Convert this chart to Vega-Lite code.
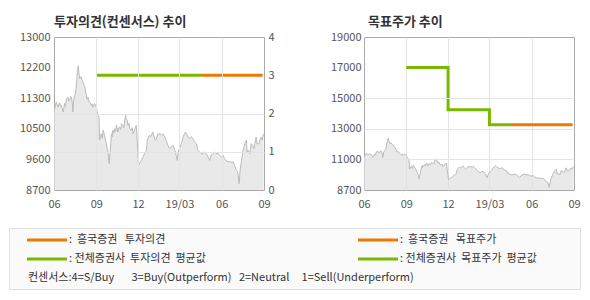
{
  "$schema": "https://vega.github.io/schema/vega-lite/v6.json",
  "background": "white",
  "padding": {"left": 8, "top": 15, "right": 0, "bottom": 0},
  "config": {
    "font": "Noto Sans CJK KR",
    "view": {"stroke": "#aaaaaa"},
    "axis": {"labelFont": "Noto Sans CJK KR", "labelFontSize": 11, "labelColor": "#555555", "domain": false, "ticks": false, "gridColor": "#e4e4e4", "labelPadding": 4, "title": null},
    "title": {"font": "Noto Sans CJK KR", "fontSize": 13, "fontWeight": "bold", "color": "#333333", "anchor": "start", "frame": "group", "baseline": "alphabetic"}
  },
  "datasets": {
    "price": [
      {"date": "2018-06-01", "price": 10940}, {"date": "2018-06-04", "price": 11050}, {"date": "2018-06-06", "price": 11170}, {"date": "2018-06-08", "price": 11090},
      {"date": "2018-06-10", "price": 11030}, {"date": "2018-06-13", "price": 11150}, {"date": "2018-06-15", "price": 11060}, {"date": "2018-06-17", "price": 11080},
      {"date": "2018-06-19", "price": 10980}, {"date": "2018-06-21", "price": 10890}, {"date": "2018-06-24", "price": 11130}, {"date": "2018-06-26", "price": 11050},
      {"date": "2018-06-28", "price": 11270}, {"date": "2018-07-01", "price": 11310}, {"date": "2018-07-03", "price": 11200}, {"date": "2018-07-05", "price": 11220},
      {"date": "2018-07-07", "price": 11330}, {"date": "2018-07-09", "price": 11310}, {"date": "2018-07-11", "price": 11100}, {"date": "2018-07-12", "price": 10890},
      {"date": "2018-07-14", "price": 11250}, {"date": "2018-07-16", "price": 11360}, {"date": "2018-07-18", "price": 11420}, {"date": "2018-07-20", "price": 11690},
      {"date": "2018-07-22", "price": 12060}, {"date": "2018-07-24", "price": 12190}, {"date": "2018-07-25", "price": 12000}, {"date": "2018-07-27", "price": 11830},
      {"date": "2018-07-30", "price": 11880}, {"date": "2018-08-01", "price": 11790}, {"date": "2018-08-03", "price": 11740}, {"date": "2018-08-05", "price": 11650},
      {"date": "2018-08-07", "price": 11600}, {"date": "2018-08-09", "price": 11450}, {"date": "2018-08-10", "price": 11410}, {"date": "2018-08-12", "price": 11250},
      {"date": "2018-08-14", "price": 11310}, {"date": "2018-08-16", "price": 11180}, {"date": "2018-08-18", "price": 11170}, {"date": "2018-08-21", "price": 11080},
      {"date": "2018-08-23", "price": 11120}, {"date": "2018-08-25", "price": 11030}, {"date": "2018-08-28", "price": 11130}, {"date": "2018-08-30", "price": 11090},
      {"date": "2018-09-01", "price": 11030}, {"date": "2018-09-03", "price": 10900}, {"date": "2018-09-05", "price": 10800}, {"date": "2018-09-07", "price": 10750},
      {"date": "2018-09-08", "price": 10100}, {"date": "2018-09-10", "price": 10200}, {"date": "2018-09-12", "price": 10280}, {"date": "2018-09-14", "price": 10150},
      {"date": "2018-09-16", "price": 10380}, {"date": "2018-09-19", "price": 10240}, {"date": "2018-09-21", "price": 10100}, {"date": "2018-09-23", "price": 10000},
      {"date": "2018-09-25", "price": 9850}, {"date": "2018-09-27", "price": 9720}, {"date": "2018-09-29", "price": 9440}, {"date": "2018-10-02", "price": 9910},
      {"date": "2018-10-04", "price": 10280}, {"date": "2018-10-06", "price": 10200}, {"date": "2018-10-07", "price": 10380}, {"date": "2018-10-09", "price": 10300},
      {"date": "2018-10-11", "price": 10420}, {"date": "2018-10-13", "price": 10350}, {"date": "2018-10-15", "price": 10520}, {"date": "2018-10-18", "price": 10330},
      {"date": "2018-10-20", "price": 10450}, {"date": "2018-10-22", "price": 10470}, {"date": "2018-10-24", "price": 10400}, {"date": "2018-10-26", "price": 10560},
      {"date": "2018-10-29", "price": 10520}, {"date": "2018-10-31", "price": 10450}, {"date": "2018-11-02", "price": 10660}, {"date": "2018-11-04", "price": 10800},
      {"date": "2018-11-05", "price": 10700}, {"date": "2018-11-07", "price": 10660}, {"date": "2018-11-09", "price": 10520}, {"date": "2018-11-11", "price": 10580},
      {"date": "2018-11-13", "price": 10420}, {"date": "2018-11-16", "price": 10380}, {"date": "2018-11-18", "price": 10450}, {"date": "2018-11-20", "price": 10280},
      {"date": "2018-11-22", "price": 10350}, {"date": "2018-11-24", "price": 10420}, {"date": "2018-11-27", "price": 10520}, {"date": "2018-11-29", "price": 10100},
      {"date": "2018-12-02", "price": 9390}, {"date": "2018-12-04", "price": 9440}, {"date": "2018-12-06", "price": 9500}, {"date": "2018-12-08", "price": 9530},
      {"date": "2018-12-10", "price": 9580}, {"date": "2018-12-12", "price": 9630}, {"date": "2018-12-15", "price": 9720}, {"date": "2018-12-17", "price": 9750},
      {"date": "2018-12-19", "price": 9820}, {"date": "2018-12-21", "price": 10100}, {"date": "2018-12-24", "price": 10190}, {"date": "2018-12-26", "price": 10240},
      {"date": "2018-12-28", "price": 10200}, {"date": "2018-12-30", "price": 10240}, {"date": "2019-01-02", "price": 10330}, {"date": "2019-01-05", "price": 10190},
      {"date": "2019-01-08", "price": 10100}, {"date": "2019-01-10", "price": 10140}, {"date": "2019-01-13", "price": 10280}, {"date": "2019-01-15", "price": 10250},
      {"date": "2019-01-17", "price": 10290}, {"date": "2019-01-21", "price": 10240}, {"date": "2019-01-24", "price": 10280}, {"date": "2019-01-28", "price": 10190},
      {"date": "2019-01-31", "price": 10100}, {"date": "2019-02-04", "price": 9950}, {"date": "2019-02-08", "price": 9860}, {"date": "2019-02-11", "price": 9910},
      {"date": "2019-02-15", "price": 9960}, {"date": "2019-02-19", "price": 9820}, {"date": "2019-02-22", "price": 9670}, {"date": "2019-02-24", "price": 9530},
      {"date": "2019-02-27", "price": 9820}, {"date": "2019-03-01", "price": 9860}, {"date": "2019-03-05", "price": 10000}, {"date": "2019-03-09", "price": 10190},
      {"date": "2019-03-12", "price": 10280}, {"date": "2019-03-14", "price": 10330}, {"date": "2019-03-16", "price": 10280}, {"date": "2019-03-20", "price": 10190},
      {"date": "2019-03-23", "price": 10140}, {"date": "2019-03-27", "price": 10200}, {"date": "2019-03-30", "price": 10140}, {"date": "2019-04-03", "price": 10050},
      {"date": "2019-04-07", "price": 10000}, {"date": "2019-04-10", "price": 9820}, {"date": "2019-04-14", "price": 9770}, {"date": "2019-04-18", "price": 9720},
      {"date": "2019-04-21", "price": 9730}, {"date": "2019-04-25", "price": 9770}, {"date": "2019-04-29", "price": 9720}, {"date": "2019-05-02", "price": 9630},
      {"date": "2019-05-06", "price": 9530}, {"date": "2019-05-09", "price": 9680}, {"date": "2019-05-13", "price": 9720}, {"date": "2019-05-17", "price": 9770},
      {"date": "2019-05-20", "price": 9720}, {"date": "2019-05-24", "price": 9730}, {"date": "2019-05-28", "price": 9670}, {"date": "2019-05-31", "price": 9630},
      {"date": "2019-06-04", "price": 9680}, {"date": "2019-06-07", "price": 9580}, {"date": "2019-06-11", "price": 9530}, {"date": "2019-06-15", "price": 9490},
      {"date": "2019-06-18", "price": 9500}, {"date": "2019-06-22", "price": 9480}, {"date": "2019-06-26", "price": 9490}, {"date": "2019-06-29", "price": 9390},
      {"date": "2019-07-03", "price": 9250}, {"date": "2019-07-06", "price": 9210}, {"date": "2019-07-09", "price": 8880}, {"date": "2019-07-11", "price": 9250},
      {"date": "2019-07-14", "price": 9530}, {"date": "2019-07-17", "price": 9770}, {"date": "2019-07-21", "price": 10000}, {"date": "2019-07-25", "price": 10100},
      {"date": "2019-07-26", "price": 9770}, {"date": "2019-07-28", "price": 9820}, {"date": "2019-08-01", "price": 9720}, {"date": "2019-08-04", "price": 10000},
      {"date": "2019-08-07", "price": 9960}, {"date": "2019-08-10", "price": 9860}, {"date": "2019-08-12", "price": 10000}, {"date": "2019-08-15", "price": 10190},
      {"date": "2019-08-17", "price": 10000}, {"date": "2019-08-21", "price": 10000}, {"date": "2019-08-24", "price": 10140}, {"date": "2019-08-26", "price": 10190},
      {"date": "2019-08-28", "price": 10100}, {"date": "2019-08-31", "price": 10280}
    ],
    "rating": [
      {"date": "2018-09-01", "rating": 3, "series": "avg"},
      {"date": "2019-04-17", "rating": 3, "series": "avg"},
      {"date": "2019-04-17", "rating": 3, "series": "hk"},
      {"date": "2019-08-29", "rating": 3, "series": "hk"}
    ],
    "target": [
      {"date": "2018-09-01", "target": 16950, "series": "avg"},
      {"date": "2018-12-01", "target": 14100, "series": "avg"},
      {"date": "2019-03-01", "target": 13100, "series": "avg"},
      {"date": "2019-04-17", "target": 13100, "series": "avg"},
      {"date": "2019-04-17", "target": 13100, "series": "hk"},
      {"date": "2019-08-29", "target": 13100, "series": "hk"}
    ],
    "legend": [
      {"col": "left", "row": "r1", "series": "hk", "label": ":\u00a0\u00a0흥국증권\u00a0\u00a0\u00a0투자의견"},
      {"col": "left", "row": "r2", "series": "avg", "label": ":\u00a0전체증권사\u00a0\u00a0투자의견\u00a0\u00a0평균값"},
      {"col": "right", "row": "r1", "series": "hk", "label": ":\u00a0\u00a0흥국증권\u00a0\u00a0\u00a0목표주가"},
      {"col": "right", "row": "r2", "series": "avg", "label": ":\u00a0전체증권사\u00a0\u00a0목표주가\u00a0\u00a0평균값"}
    ],
    "note": [
      {"col": "left", "row": "r3", "label": "컨센서스:4=S/Buy\u00a0\u00a0\u00a0\u00a0\u00a0\u00a0\u00a03=Buy(Outperform)\u00a0\u00a0\u00a02=Neutral\u00a0\u00a0\u00a0\u00a0\u00a01=Sell(Underperform)"}
    ],
    "empty": []
  },
  "columns": 1,
  "align": "none",
  "spacing": 17,
  "concat": [
    {
      "spacing": 0,
      "hconcat": [
        {
          "width": 1,
          "height": 1,
          "data": {"name": "empty"},
          "mark": "point",
          "view": {"stroke": null}
        },
        {
          "spacing": 54,
          "hconcat": [
            {
              "width": 210,
              "height": 153,
              "title": {"text": "투자의견(컨센서스) 추이", "offset": 2},
              "layer": [
                {
                  "data": {"name": "price"},
                  "mark": {"type": "area", "color": "#e0e0e0", "line": {"color": "#bbbbbb", "strokeWidth": 1}, "clip": true},
                  "encoding": {
                    "x": {"field": "date", "type": "temporal",
                      "scale": {"type": "utc", "domain": [{"year": 2018, "month": 6, "date": 1, "utc": true}, {"year": 2019, "month": 9, "date": 1, "utc": true}]},
                      "axis": {"values": [{"year": 2018, "month": 6, "date": 1, "utc": true}, {"year": 2018, "month": 9, "date": 1, "utc": true}, {"year": 2018, "month": 12, "date": 1, "utc": true}, {"year": 2019, "month": 3, "date": 1, "utc": true}, {"year": 2019, "month": 6, "date": 1, "utc": true}, {"year": 2019, "month": 9, "date": 1, "utc": true}],
                        "labelExpr": "utcmonth(datum.value) == 2 ? '19/03' : utcFormat(datum.value, '%m')",
                        "grid": true, "zindex": 1, "labelPadding": 8, "labelFlush": false, "labelBound": false, "labelOverlap": false,
                        "gridOpacity": {"condition": {"test": "datum.value <= 1527811200000 || datum.value >= 1567296000000", "value": 0}, "value": 1}}
                    },
                    "y": {"field": "price", "type": "quantitative",
                      "scale": {"domain": [8700, 13000], "nice": false, "zero": false},
                      "axis": {"orient": "left", "grid": false, "values": [8700, 9560, 10420, 11280, 12140, 13000], "labelOverlap": false, "minExtent": 43,
                        "labelExpr": "datum.value == 9560 ? '9600' : datum.value == 10420 ? '10500' : datum.value == 11280 ? '11300' : datum.value == 12140 ? '12200' : datum.value == 8700 ? '8700' : '13000'"}
                    }
                  }
                },
                {
                  "data": {"name": "rating"},
                  "mark": {"type": "line", "strokeWidth": 3, "clip": true},
                  "encoding": {
                    "x": {"field": "date", "type": "temporal"},
                    "y": {"field": "rating", "type": "quantitative",
                      "scale": {"domain": [0, 4], "nice": false},
                      "axis": {"orient": "right", "values": [0, 1, 2, 3, 4], "grid": true, "zindex": 1, "labelOverlap": false,
                        "gridOpacity": {"condition": {"test": "datum.value == 0 || datum.value == 3 || datum.value == 4", "value": 0}, "value": 1}}
                    },
                    "color": {"field": "series", "type": "nominal", "scale": {"domain": ["hk", "avg"], "range": ["#f07800", "#7ab800"]}, "legend": null}
                  }
                }
              ],
              "resolve": {"scale": {"y": "independent"}}
            },
            {
              "width": 210,
              "height": 153,
              "title": {"text": "목표주가 추이", "offset": 2, "dx": 4},
              "layer": [
                {
                  "data": {"name": "price"},
                  "mark": {"type": "area", "color": "#e0e0e0", "line": {"color": "#bbbbbb", "strokeWidth": 1}, "clip": true},
                  "encoding": {
                    "x": {"field": "date", "type": "temporal",
                      "scale": {"type": "utc", "domain": [{"year": 2018, "month": 6, "date": 1, "utc": true}, {"year": 2019, "month": 9, "date": 1, "utc": true}]},
                      "axis": {"values": [{"year": 2018, "month": 6, "date": 1, "utc": true}, {"year": 2018, "month": 9, "date": 1, "utc": true}, {"year": 2018, "month": 12, "date": 1, "utc": true}, {"year": 2019, "month": 3, "date": 1, "utc": true}, {"year": 2019, "month": 6, "date": 1, "utc": true}, {"year": 2019, "month": 9, "date": 1, "utc": true}],
                        "labelExpr": "utcmonth(datum.value) == 2 ? '19/03' : utcFormat(datum.value, '%m')",
                        "grid": true, "zindex": 0, "labelPadding": 8, "labelFlush": false, "labelBound": false, "labelOverlap": false,
                        "gridOpacity": {"condition": {"test": "datum.value <= 1527811200000 || datum.value >= 1567296000000", "value": 0}, "value": 1}}
                    },
                    "y": {"field": "price", "type": "quantitative",
                      "scale": {"domain": [8700, 19000], "nice": false, "zero": false},
                      "axis": {"orient": "left", "grid": true, "zindex": 1, "values": [8700, 10760, 12820, 14880, 16940, 19000], "labelOverlap": false, "labelPadding": 3,
                        "labelExpr": "datum.value == 10760 ? '11000' : datum.value == 12820 ? '13000' : datum.value == 14880 ? '15000' : datum.value == 16940 ? '17000' : datum.value == 8700 ? '8700' : '19000'",
                        "gridOpacity": {"condition": {"test": "datum.value == 8700 || datum.value == 16940 || datum.value == 19000", "value": 0}, "value": 1}}
                    }
                  }
                },
                {
                  "data": {"name": "target"},
                  "mark": {"type": "line", "strokeWidth": 3, "interpolate": "step-after", "clip": true},
                  "encoding": {
                    "x": {"field": "date", "type": "temporal"},
                    "y": {"field": "target", "type": "quantitative", "scale": {"domain": [8700, 19000], "nice": false, "zero": false},
                      "axis": {"orient": "left", "grid": true, "zindex": 1, "values": [8700, 10760, 12820, 14880, 16940, 19000], "labelOverlap": false, "labelPadding": 3,
                        "labelExpr": "datum.value == 10760 ? '11000' : datum.value == 12820 ? '13000' : datum.value == 14880 ? '15000' : datum.value == 16940 ? '17000' : datum.value == 8700 ? '8700' : '19000'",
                        "gridOpacity": {"condition": {"test": "datum.value == 8700 || datum.value == 16940 || datum.value == 19000", "value": 0}, "value": 1}}},
                    "color": {"field": "series", "type": "nominal", "scale": {"domain": ["hk", "avg"], "range": ["#f07800", "#7ab800"]}, "legend": null}
                  }
                }
              ]
            }
          ]
        }
      ]
    },
    {
      "width": 571,
      "height": 61,
      "view": {"fill": "#fafafa", "stroke": "#e0e0e0"},
      "layer": [
        {
          "data": {"name": "legend"},
          "mark": {"type": "rule", "strokeWidth": 3, "x2Offset": 40},
          "encoding": {
            "x": {"field": "col", "type": "nominal", "scale": {"type": "point", "domain": ["left", "right"], "range": [18, 349], "padding": 0}, "axis": null},
            "x2": {"field": "col"},
            "y": {"field": "row", "type": "nominal", "scale": {"type": "point", "domain": ["r1", "r2", "r3"], "range": [12, 50], "padding": 0}, "axis": null},
            "color": {"field": "series", "type": "nominal", "scale": {"domain": ["hk", "avg"], "range": ["#f07800", "#7ab800"]}, "legend": null}
          }
        },
        {
          "data": {"name": "legend"},
          "mark": {"type": "text", "align": "left", "baseline": "middle", "dx": 42, "fontSize": 11, "color": "#333333", "font": "Noto Sans CJK KR"},
          "encoding": {
            "x": {"field": "col", "type": "nominal"},
            "y": {"field": "row", "type": "nominal"},
            "text": {"field": "label"}
          }
        },
        {
          "data": {"name": "note"},
          "mark": {"type": "text", "align": "left", "baseline": "middle", "dx": 1, "fontSize": 11, "color": "#333333", "font": "Noto Sans CJK KR"},
          "encoding": {
            "x": {"field": "col", "type": "nominal"},
            "y": {"field": "row", "type": "nominal"},
            "text": {"field": "label"}
          }
        }
      ]
    }
  ]
}
